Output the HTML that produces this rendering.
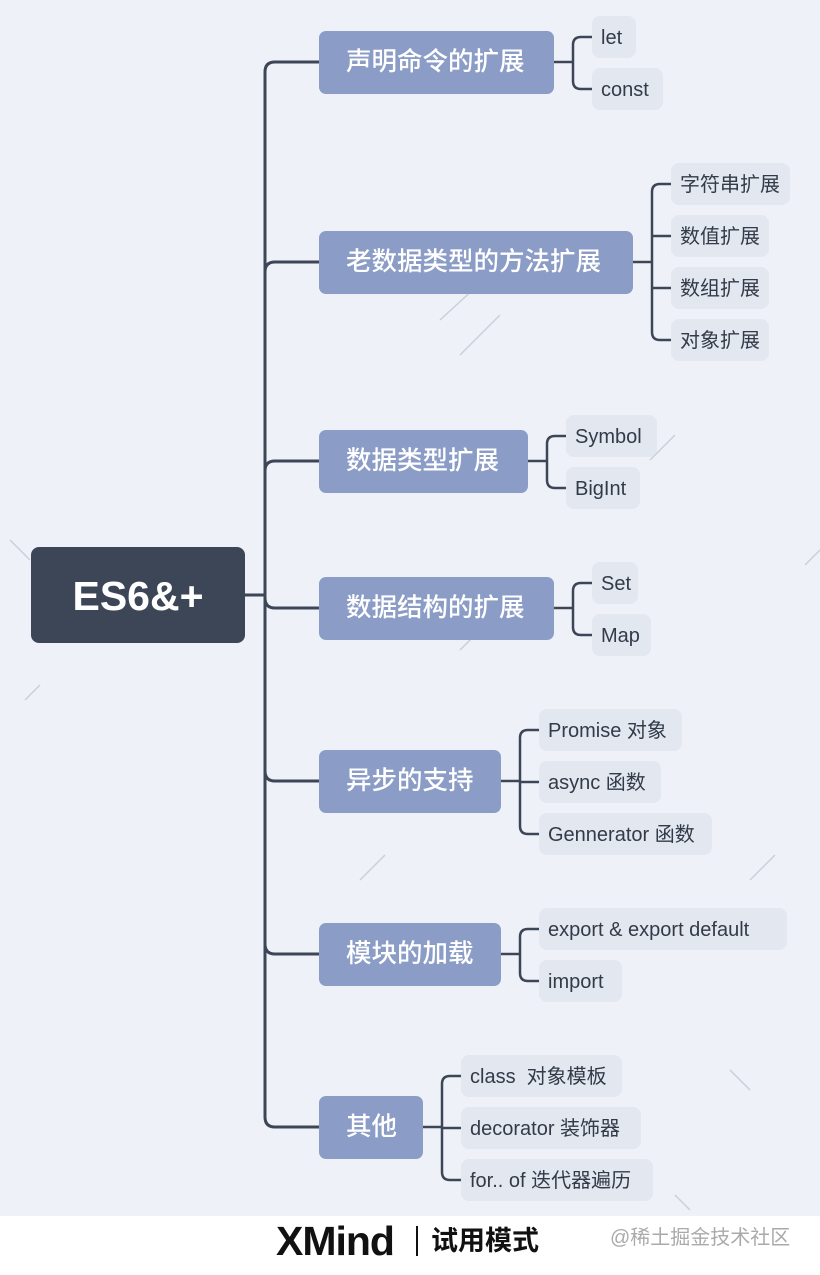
<!DOCTYPE html>
<html><head><meta charset="utf-8"><style>
*{margin:0;padding:0;box-sizing:border-box}
body{width:820px;height:1275px;background:#eef2f8;position:relative;overflow:hidden;font-family:"Liberation Sans","Noto Sans CJK SC",sans-serif}
.b{position:absolute;height:63px;background:#8b9dc6;color:#fff;border-radius:7px;font-size:25.5px;line-height:63px;padding-left:27px;font-weight:500;white-space:nowrap}
.l{position:absolute;height:42px;background:#e2e7f0;color:#333b48;border-radius:8px;font-size:20px;line-height:44px;padding-left:9px;white-space:nowrap}
svg{position:absolute;left:0;top:0}
</style></head><body>
<svg width="820" height="1216" fill="none" stroke="#c9d0da" stroke-width="1.5">
<path d="M440 320l60 -55M460 355l40 -40M10 540l20 20M830 540l-25 25M25 700l15 -15M360 880l25 -25M750 880l25 -25M730 1070l20 20M460 650l25 -25M650 460l25 -25M690 1210l-15 -15"/>
</svg>
<svg width="820" height="1216" fill="none" stroke="#3d4656" stroke-width="3" stroke-linecap="round">
<path d="M245 595H265M265 72V1117M265 72Q265 62 275 62H319M265 1117Q265 1127 275 1127H319M265 272Q265 262 275 262H319M265 471Q265 461 275 461H319M265 598Q265 608 275 608H319M265 771Q265 781 275 781H319M265 944Q265 954 275 954H319"/>
<g stroke-width="2.5">
<path d="M554 62H573M573 45V81M573 45Q573 37 581 37H592M573 81Q573 89 581 89H592"/>
<path d="M633 262H652M652 192V332M652 192Q652 184 660 184H671M652 236H671M652 288H671M652 332Q652 340 660 340H671"/>
<path d="M528 461H547M547 444V480M547 444Q547 436 555 436H566M547 480Q547 488 555 488H566"/>
<path d="M554 608H573M573 591V627M573 591Q573 583 581 583H592M573 627Q573 635 581 635H592"/>
<path d="M501 781H520M520 738V826M520 738Q520 730 528 730H539M520 782H539M520 826Q520 834 528 834H539"/>
<path d="M501 954H520M520 937V973M520 937Q520 929 528 929H539M520 973Q520 981 528 981H539"/>
<path d="M423 1127H442M442 1084V1172M442 1084Q442 1076 450 1076H461M442 1128H461M442 1172Q442 1180 450 1180H461"/>
</g></svg>
<div style="position:absolute;left:31px;top:547px;width:214px;height:96px;background:#3d4656;border-radius:8px;color:#fff;font-size:41px;font-weight:bold;text-align:center;line-height:98px">ES6&amp;+</div>
<div class="b" style="left:319px;top:31px;width:235px">声明命令的扩展</div>
<div class="b" style="left:319px;top:231px;width:314px">老数据类型的方法扩展</div>
<div class="b" style="left:319px;top:430px;width:209px">数据类型扩展</div>
<div class="b" style="left:319px;top:577px;width:235px">数据结构的扩展</div>
<div class="b" style="left:319px;top:750px;width:182px">异步的支持</div>
<div class="b" style="left:319px;top:923px;width:182px">模块的加载</div>
<div class="b" style="left:319px;top:1096px;width:104px">其他</div>
<div class="l" style="left:592px;top:16px;width:44px">let</div>
<div class="l" style="left:592px;top:68px;width:71px">const</div>
<div class="l" style="left:671px;top:163px;width:119px">字符串扩展</div>
<div class="l" style="left:671px;top:215px;width:98px">数值扩展</div>
<div class="l" style="left:671px;top:267px;width:98px">数组扩展</div>
<div class="l" style="left:671px;top:319px;width:98px">对象扩展</div>
<div class="l" style="left:566px;top:415px;width:91px">Symbol</div>
<div class="l" style="left:566px;top:467px;width:74px">BigInt</div>
<div class="l" style="left:592px;top:562px;width:46px">Set</div>
<div class="l" style="left:592px;top:614px;width:59px">Map</div>
<div class="l" style="left:539px;top:709px;width:143px">Promise 对象</div>
<div class="l" style="left:539px;top:761px;width:122px">async 函数</div>
<div class="l" style="left:539px;top:813px;width:173px">Gennerator 函数</div>
<div class="l" style="left:539px;top:908px;width:248px">export &amp; export default</div>
<div class="l" style="left:539px;top:960px;width:83px">import</div>
<div class="l" style="left:461px;top:1055px;width:161px">class&nbsp; 对象模板</div>
<div class="l" style="left:461px;top:1107px;width:180px">decorator 装饰器</div>
<div class="l" style="left:461px;top:1159px;width:192px">for.. of 迭代器遍历</div>
<div style="position:absolute;left:0;top:1216px;width:820px;height:59px;background:#fff"></div>
<div style="position:absolute;left:276px;top:1219px;font-size:41px;font-weight:bold;color:#111;line-height:44px;letter-spacing:-1px">XMind</div>
<div style="position:absolute;left:416px;top:1226px;width:1.5px;height:30px;background:#111"></div>
<div style="position:absolute;left:431px;top:1221px;font-size:27px;font-weight:bold;color:#111;line-height:40px">试用模式</div>
<div style="position:absolute;left:610px;top:1224px;font-size:20px;color:#aaa;line-height:28px">@稀土掘金技术社区</div>
</body></html>
